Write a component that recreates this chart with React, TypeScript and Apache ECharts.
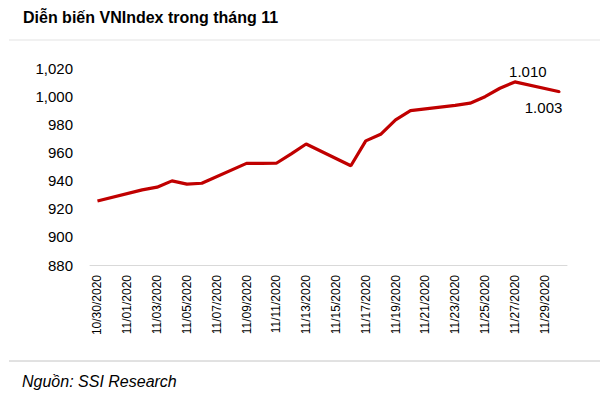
import React, { useEffect, useRef } from "react";
import * as echarts from "echarts";

const dates: string[] = [
  "10/30/2020", "10/31/2020", "11/01/2020", "11/02/2020", "11/03/2020", "11/04/2020",
  "11/05/2020", "11/06/2020", "11/07/2020", "11/08/2020", "11/09/2020", "11/10/2020",
  "11/11/2020", "11/12/2020", "11/13/2020", "11/14/2020", "11/15/2020", "11/16/2020",
  "11/17/2020", "11/18/2020", "11/19/2020", "11/20/2020", "11/21/2020", "11/22/2020",
  "11/23/2020", "11/24/2020", "11/25/2020", "11/26/2020", "11/27/2020", "11/28/2020",
  "11/29/2020", "11/30/2020",
];

// null = weekend (no trading), line connects across
const vnindex: (number | null)[] = [
  925.5, null, null, 933.4, 935.3, 939.8,
  937.5, 938.1, null, null, 952.2, 952.2,
  952.3, 959.0, 966.0, null, null, 950.5,
  968.2, 972.9, 983.2, 989.7, null, null,
  993.4, 995.0, 999.6, 1005.6, 1010.1, null,
  null, 1003.1,
];

const yTicks = { min: 880, max: 1020, interval: 20 };
const labelled: Record<number, { text: string; pos: "top" | "bottom"; offset: number[] }> = {
  28: { text: "1.010", pos: "top", offset: [13, 3] },
  31: { text: "1.003", pos: "bottom", offset: [-16, 2] },
};

export default function App() {
  const ref = useRef<HTMLDivElement>(null);
  useEffect(() => {
    document.body.style.margin = "0";
    const chart = echarts.init(ref.current!, undefined, { renderer: "svg" });
    const font = "Liberation Sans, Arial, sans-serif";
    chart.setOption({
      animation: false,
      backgroundColor: "#ffffff",
      textStyle: { fontFamily: font },
      grid: { left: 90, right: 33, top: 68, bottom: 135 },
      xAxis: {
        type: "category",
        data: dates,
        boundaryGap: true,
        axisLine: { lineStyle: { color: "#d9d9d9", width: 1 } },
        axisTick: { show: false },
        axisLabel: {
          interval: 1,
          rotate: 90,
          color: "#000",
          fontSize: 12,
          fontFamily: font,
          margin: 10,
        },
      },
      yAxis: {
        type: "value",
        min: yTicks.min,
        max: yTicks.max,
        interval: yTicks.interval,
        axisLine: { show: false },
        axisTick: { show: false },
        splitLine: { show: false },
        axisLabel: {
          color: "#000",
          fontSize: 15,
          fontFamily: font,
          margin: 17,
          formatter: (v: number) => v.toLocaleString("en-US"),
        },
      },
      series: [
        {
          type: "line",
          data: vnindex.map((v, i) =>
            labelled[i]
              ? {
                  value: v,
                  symbol: "circle",
                  symbolSize: 2,
                  label: {
                    show: true,
                    position: labelled[i].pos,
                    offset: labelled[i].offset,
                    formatter: labelled[i].text,
                    color: "#000",
                    fontSize: 15,
                    fontFamily: font,
                  },
                }
              : v
          ),
          connectNulls: true,
          showSymbol: true,
          symbol: "none",
          itemStyle: { color: "#c00000" },
          lineStyle: { color: "#c00000", width: 3.2 },
        },
      ],
      graphic: [
        {
          type: "text",
          left: 23,
          top: 9,
          style: {
            text: "Diễn biến VNIndex trong tháng 11",
            font: `bold 16px ${font}`,
            fill: "#000",
          },
        },
        {
          type: "line",
          shape: { x1: 9, y1: 40, x2: 600, y2: 40 },
          style: { stroke: "#e3e3e3", lineWidth: 1 },
        },
        {
          type: "line",
          shape: { x1: 9, y1: 361, x2: 600, y2: 361 },
          style: { stroke: "#c4c4c4", lineWidth: 1 },
        },
        {
          type: "text",
          left: 22,
          top: 373,
          style: {
            text: "Nguồn: SSI Research",
            font: `italic 16px ${font}`,
            fill: "#000",
          },
        },
      ],
    });
    return () => chart.dispose();
  }, []);
  return (
    <div
      ref={ref}
      style={{ position: "fixed", left: 0, top: 0, width: 600, height: 400 }}
    />
  );
}
